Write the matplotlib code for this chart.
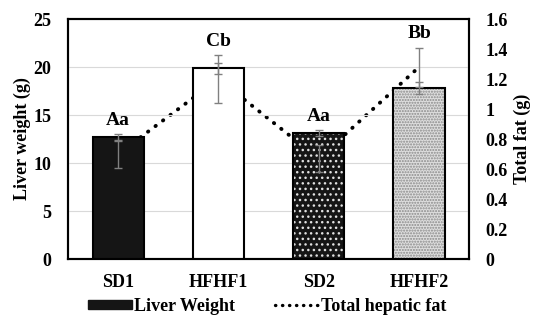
import numpy as np
import matplotlib.pyplot as plt
from matplotlib.patches import Patch
from matplotlib.lines import Line2D

plt.rcParams['font.family'] = ['Liberation Serif', 'DejaVu Serif']
plt.rcParams['font.weight'] = 'bold'

groups = ['SD1', 'HFHF1', 'SD2', 'HFHF2']
liver = [12.7, 19.85, 13.1, 17.8]
liver_err = [0.3, 0.6, 0.3, 0.6]
fat = [0.70, 1.20, 0.67, 1.28]
fat_err = [0.09, 0.16, 0.09, 0.13]
letters = ['Aa', 'Cb', 'Aa', 'Bb']

faces = ['#151515', 'white', '#151515', '#dedede']
hatches = ['', '', '...', '......']
hatch_cols = ['#151515', 'white', '#e0e0e0', '#8a8a8a']

x = np.arange(len(groups))

fig = plt.figure(figsize=(5.35, 3.26), dpi=100)
ax1 = fig.add_axes([0.127, 0.2055, 0.75, 0.736])
ax2 = ax1.twinx()
ax3 = ax1.twinx()
ax2.set_zorder(1)
ax1.set_zorder(2)
ax3.set_zorder(3)
ax1.patch.set_visible(False)
ax3.patch.set_visible(False)

# bars: hatched fill first, then black outline
for i in range(len(x)):
    ax1.bar(x[i], liver[i], width=0.51, color=faces[i], hatch=hatches[i],
            edgecolor=hatch_cols[i], linewidth=0, zorder=2)
ax1.bar(x, liver, width=0.51, fill=False, edgecolor='black', linewidth=1.5, zorder=3)
ax1.errorbar(x, liver, yerr=liver_err, fmt='none', ecolor='#808080',
             elinewidth=1, capsize=3, capthick=1, zorder=4)
for i in range(len(x)):
    top = max(liver[i] + liver_err[i], (fat[i] + fat_err[i]) * 25 / 1.6)
    ax1.text(x[i], top + 0.55, letters[i], ha='center', va='bottom',
             fontsize=14, fontweight='bold')

# fat line behind bars, fat error bars in front
ax2.plot(x, fat, color='black', linewidth=2.8, linestyle=(0, (0.1, 2.3)),
         dash_capstyle='round')
ax3.errorbar(x, fat, yerr=fat_err, fmt='none', ecolor='#808080',
             elinewidth=1, capsize=3, capthick=1)

ax1.set_xlim(-0.5, 3.5)
ax1.set_ylim(0, 25)
ax1.set_yticks(np.arange(0, 26, 5))
ax2.set_ylim(0, 1.6)
ax3.set_ylim(0, 1.6)
ax2.set_yticks(np.arange(0, 1.61, 0.2))
ax2.set_yticklabels(['0', '0.2', '0.4', '0.6', '0.8', '1', '1.2', '1.4', '1.6'])
ax3.axis('off')

ax1.set_xticks(x)
ax1.set_xticklabels(groups)
ax1.tick_params(axis='x', length=0, pad=11, labelsize=13)
ax1.tick_params(axis='y', length=0, pad=12, labelsize=13)
ax2.tick_params(axis='y', length=0, pad=12, labelsize=13)
ax1.yaxis.grid(True, color='#d9d9d9', linewidth=0.8)
ax1.set_axisbelow(True)
for s in ax1.spines.values():
    s.set_linewidth(1.5)
for s in ax2.spines.values():
    s.set_linewidth(1.5)

ax1.set_ylabel('Liver weight (g)', fontsize=13, fontweight='bold', labelpad=2)
ax2.set_ylabel('Total fat (g)', fontsize=13, fontweight='bold', labelpad=4)

handles = [Patch(facecolor='#151515', edgecolor='#151515'),
           Line2D([0], [0], color='black', linewidth=2.4, linestyle=(0, (0.1, 2.0)),
                  dash_capstyle='round')]
fig.legend(handles, ['Liver Weight', 'Total hepatic fat'], loc='center',
           bbox_to_anchor=(0.5, 0.06), ncol=2, frameon=False,
           prop={'size': 13, 'weight': 'bold'}, handlelength=2.4,
           handleheight=0.4, handletextpad=0.15, columnspacing=2.2)

fig.savefig('out.png', dpi=100)
